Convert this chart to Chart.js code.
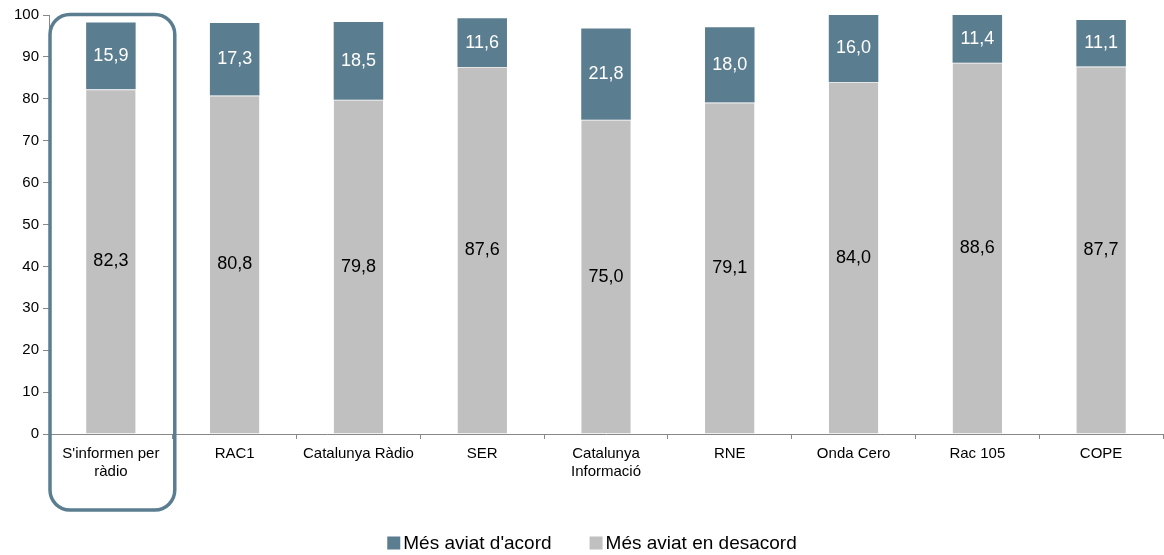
<!DOCTYPE html>
<html><head><meta charset="utf-8">
<script src="https://cdn.jsdelivr.net/npm/chart.js@4/dist/chart.umd.min.js"></script>
<style>html,body{margin:0;padding:0;background:#fff}#wrap{width:1164px;height:555px}</style>
</head><body><div id="wrap"><canvas id="c" width="1164" height="555"></canvas></div>
<script>
const categories = [["S'informen per","ràdio"],"RAC1","Catalunya Ràdio","SER",["Catalunya","Informació"],"RNE","Onda Cero","Rac 105","COPE"];
const desacord = [82.3,80.8,79.8,87.6,75.0,79.1,84.0,88.6,87.7];
const acord = [15.9,17.3,18.5,11.6,21.8,18.0,16.0,11.4,11.1];
const yTicks = [0,10,20,30,40,50,60,70,80,90,100];
const TEAL = '#5B7D90', GREY = '#C0C0C0';
const FONT = '"Liberation Sans", Arial, sans-serif';

const labelPlugin = {
  id:'labels',
  afterDatasetsDraw(chart){
    const ctx = chart.ctx;
    chart.data.datasets.forEach((ds,di)=>{
      const meta = chart.getDatasetMeta(di);
      meta.data.forEach((bar,i)=>{
        const v = ds.data[i];
        const yc = (bar.y + bar.base)/2;
        ctx.save();
        ctx.font = '18px ' + FONT;
        ctx.fillStyle = di===1 ? '#ffffff' : '#000000';
        ctx.textAlign='center'; ctx.textBaseline='middle';
        ctx.fillText(v.toFixed(1).replace('.',','), bar.x, yc);
        ctx.restore();
      });
    });
  },
  afterDraw(chart){
    const ctx = chart.ctx, x = chart.scales.x, y = chart.scales.y;
    const cw = (x.right - x.left)/categories.length;
    const l = x.getPixelForValue(0) - cw/2 + 1, r = x.getPixelForValue(0) + cw/2 + 2;
    const t = y.getPixelForValue(100) - 0.5, b = 510;
    ctx.save();
    ctx.strokeStyle = TEAL; ctx.lineWidth = 3.5;
    ctx.beginPath();
    ctx.roundRect(l, t, r-l, b-t, 20);
    ctx.stroke();
    ctx.restore();
    // legend (reverse dataset order)
    ctx.save();
    ctx.font = '19px ' + FONT;
    ctx.textBaseline = 'middle'; ctx.textAlign = 'left';
    const items = chart.data.datasets.slice().reverse();
    const box = 13, gapBox = 3, gapItem = 38, ly = 543;
    let total = 0;
    items.forEach((d,i)=>{ total += box + gapBox + ctx.measureText(d.label).width + (i<items.length-1?gapItem:0); });
    let lx = 592 - total/2;
    items.forEach(d=>{
      ctx.fillStyle = d.backgroundColor;
      ctx.fillRect(lx, ly - box/2, box, box);
      lx += box + gapBox;
      ctx.fillStyle = '#000';
      ctx.fillText(d.label, lx, ly + 1);
      lx += ctx.measureText(d.label).width + gapItem;
    });
    ctx.restore();
  }
};

new Chart(document.getElementById('c'), {
  type:'bar',
  data:{
    labels: categories,
    datasets:[
      {label:'Més aviat en desacord', data:desacord, backgroundColor:GREY, borderColor:'#e6e6e6', borderWidth:{top:1}, borderSkipped:false, barPercentage:0.4, categoryPercentage:1},
      {label:"Més aviat d'acord", data:acord, backgroundColor:TEAL, borderWidth:0, barPercentage:0.4, categoryPercentage:1}
    ]
  },
  options:{
    responsive:false, animation:false,
    layout:{padding:{left:0,right:1,top:15,bottom:0}},
    plugins:{
      legend:{display:false},
      tooltip:{enabled:false}
    },
    scales:{
      x:{stacked:true, offset:true,
        grid:{drawOnChartArea:false, offset:true, tickLength:5, color:'#888'},
        border:{color:'#888'},
        ticks:{font:{family:FONT,size:15}, color:'#000', maxRotation:0, autoSkip:false, padding:6},
        afterFit(s){ s.height = 121; }
      },
      y:{stacked:true, min:0, max:100,
        afterBuildTicks(s){ s.ticks = yTicks.map(v=>({value:v})); },
        grid:{drawOnChartArea:false, tickLength:6, color:'#888'},
        border:{color:'#888'},
        ticks:{font:{family:FONT,size:15}, color:'#000', padding:4},
        afterFit(s){ s.width = 49; }
      }
    }
  },
  plugins:[labelPlugin]
});
</script></body></html>
